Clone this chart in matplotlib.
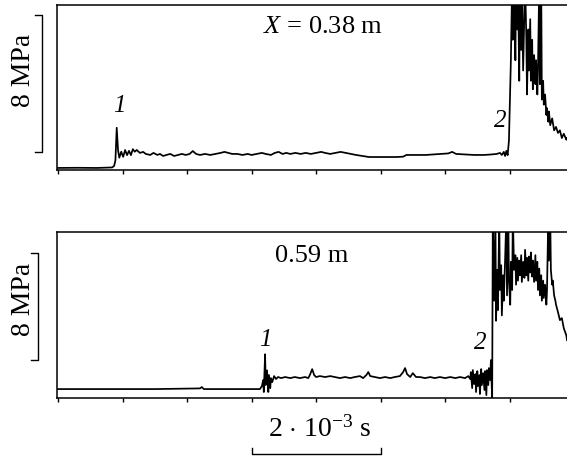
#!/usr/bin/env python3
"""2 点での圧力波形 (オシログラム) を再現する。"""
import matplotlib

matplotlib.use("Agg")
import matplotlib.pyplot as plt
import matplotlib.transforms as mtransforms

matplotlib.rcParams["font.family"] = ["Liberation Serif", "DejaVu Serif"]
matplotlib.rcParams["mathtext.fontset"] = "custom"
matplotlib.rcParams["mathtext.rm"] = "Liberation Serif"
matplotlib.rcParams["mathtext.it"] = "Liberation Serif:italic"

# X = 0.38 m : 時間 (ms) と圧力 (MPa)
top_t = [-0.02, 0.30, 0.60, 0.84, 0.87, 0.89, 0.91, 0.93, 0.95, 0.98, 1.01, 1.04,
         1.07, 1.10, 1.13, 1.16, 1.19, 1.22, 1.27, 1.32, 1.36, 1.43, 1.48, 1.54,
         1.58, 1.63, 1.68, 1.74, 1.80, 1.86, 1.92, 1.98, 2.04, 2.09, 2.14, 2.20,
         2.28, 2.36, 2.44, 2.52, 2.58, 2.64, 2.70, 2.78, 2.86, 2.94, 3.00, 3.08,
         3.16, 3.22, 3.30, 3.36, 3.42, 3.48, 3.54, 3.60, 3.68, 3.76, 3.84, 3.92,
         4.00, 4.08, 4.14, 4.22, 4.30, 4.38, 4.46, 4.54, 4.62, 4.72, 4.82, 4.95,
         5.10, 5.25, 5.35, 5.40, 5.55, 5.70, 5.82, 5.95, 6.05, 6.11, 6.17, 6.30,
         6.45, 6.60, 6.72, 6.80, 6.85, 6.88, 6.91, 6.93, 6.95, 6.97, 6.99, 7.02,
         7.04, 7.05, 7.07, 7.09, 7.10, 7.12, 7.13, 7.15, 7.16, 7.18, 7.19, 7.21,
         7.23, 7.24, 7.26, 7.27, 7.29, 7.30, 7.32, 7.33, 7.35, 7.36, 7.38, 7.40,
         7.41, 7.43, 7.44, 7.46, 7.47, 7.49, 7.50, 7.52, 7.53, 7.55, 7.57, 7.58,
         7.60, 7.61, 7.63, 7.66, 7.69, 7.72, 7.75, 7.78, 7.81, 7.84, 7.88, 7.89]
top_p = [0.00, 0.01, 0.00, 0.03, 0.12, 0.45, 2.35, 1.05, 0.60, 0.95, 0.65, 1.05,
         0.75, 1.00, 0.75, 1.10, 0.95, 1.05, 0.88, 0.94, 0.82, 0.76, 0.88, 0.76,
         0.82, 0.70, 0.76, 0.82, 0.70, 0.76, 0.82, 0.76, 0.82, 0.99, 0.82, 0.76,
         0.82, 0.76, 0.82, 0.88, 0.94, 0.88, 0.82, 0.82, 0.76, 0.82, 0.76, 0.82,
         0.88, 0.82, 0.76, 0.88, 0.94, 0.82, 0.88, 0.82, 0.88, 0.82, 0.88, 0.82,
         0.88, 0.94, 0.88, 0.82, 0.88, 0.94, 0.88, 0.82, 0.76, 0.70, 0.64, 0.64,
         0.64, 0.64, 0.66, 0.76, 0.76, 0.76, 0.79, 0.82, 0.85, 0.94, 0.82, 0.79,
         0.76, 0.76, 0.79, 0.82, 0.88, 0.76, 0.94, 0.70, 1.00, 0.75, 1.60, 6.30,
         11.0, 7.50, 11.0, 6.30, 11.0, 8.10, 11.0, 5.10, 11.0, 6.90, 11.0, 5.70,
         9.20, 11.0, 7.50, 4.30, 8.10, 5.70, 8.70, 5.10, 7.50, 4.60, 6.60, 4.90,
         6.30, 4.30, 5.70, 11.0, 4.90, 11.0, 4.00, 5.10, 3.70, 4.30, 3.10, 3.50,
         2.70, 3.30, 2.50, 2.90, 2.20, 2.40, 2.05, 2.20, 1.75, 2.00, 1.65, 1.75]

# 0.59 m
bot_t = [-0.02, 1.50, 2.20, 2.23, 2.26, 3.00, 3.13, 3.16, 3.18, 3.19, 3.21, 3.22,
         3.24, 3.26, 3.27, 3.29, 3.30, 3.32, 3.35, 3.38, 3.41, 3.46, 3.52, 3.60,
         3.67, 3.75, 3.83, 3.88, 3.91, 3.94, 3.97, 4.00, 4.06, 4.14, 4.22, 4.29,
         4.37, 4.45, 4.53, 4.60, 4.68, 4.73, 4.78, 4.81, 4.84, 4.91, 4.99, 5.07,
         5.15, 5.22, 5.30, 5.35, 5.38, 5.41, 5.46, 5.50, 5.55, 5.61, 5.69, 5.77,
         5.84, 5.92, 6.00, 6.08, 6.16, 6.23, 6.31, 6.36, 6.39, 6.40, 6.42, 6.43,
         6.45, 6.47, 6.48, 6.50, 6.51, 6.53, 6.54, 6.56, 6.57, 6.59, 6.61, 6.62,
         6.64, 6.65, 6.67, 6.68, 6.70, 6.71, 6.73, 6.74, 6.76, 6.78, 6.79, 6.81,
         6.82, 6.84, 6.85, 6.87, 6.88, 6.90, 6.91, 6.93, 6.95, 6.96, 6.98, 6.99,
         7.01, 7.02, 7.04, 7.05, 7.07, 7.09, 7.10, 7.12, 7.13, 7.15, 7.16, 7.18,
         7.19, 7.21, 7.23, 7.24, 7.26, 7.27, 7.29, 7.30, 7.32, 7.33, 7.35, 7.36,
         7.38, 7.40, 7.41, 7.43, 7.44, 7.46, 7.47, 7.49, 7.50, 7.52, 7.53, 7.55,
         7.57, 7.58, 7.60, 7.61, 7.63, 7.64, 7.66, 7.67, 7.69, 7.71, 7.72, 7.75,
         7.78, 7.81, 7.84, 7.88, 7.89]
bot_p = [0.00, 0.00, 0.05, 0.15, 0.00, 0.00, 0.00, 0.22, 0.67, -0.22, 2.60, 0.30,
         1.40, -0.22, 1.05, 0.07, 0.82, 0.52, 0.97, 0.75, 0.90, 0.82, 0.90, 0.82,
         0.90, 0.82, 0.90, 0.82, 1.12, 1.49, 1.05, 0.90, 0.97, 0.90, 0.97, 0.90,
         0.82, 0.90, 0.82, 0.90, 0.97, 0.82, 1.05, 1.27, 0.97, 0.90, 0.82, 0.90,
         0.82, 0.90, 0.97, 1.27, 1.57, 1.12, 0.90, 1.19, 0.90, 0.90, 0.82, 0.90,
         0.82, 0.90, 0.82, 0.90, 0.82, 0.90, 0.82, 0.97, 0.75, 1.27, 0.07, 1.42,
         0.37, 1.12, -0.22, 1.34, 0.22, 1.05, -0.37, 1.49, 0.30, 1.19, -0.07, 1.34,
         -0.45, 1.42, 0.30, 1.57, 0.67, 2.16, -0.82, 13.0, 6.60, 13.0, 5.10, 8.90,
         5.90, 13.0, 7.40, 9.25, 5.50, 8.50, 6.60, 9.60, 13.0, 7.00, 13.0, 8.10,
         6.30, 9.50, 7.40, 13.0, 8.90, 10.0, 7.80, 9.80, 8.10, 9.60, 8.50, 10.0,
         8.00, 9.50, 8.30, 10.4, 8.50, 9.80, 8.10, 9.90, 8.70, 10.2, 8.40, 9.60,
         8.00, 10.0, 8.10, 9.50, 7.40, 9.00, 7.00, 8.50, 6.60, 8.10, 6.80, 7.80,
         6.30, 7.40, 13.0, 9.60, 13.0, 8.90, 7.80, 8.10, 7.00, 6.60, 6.30, 5.75,
         5.15, 5.30, 4.55, 4.00, 3.65]

tick_ms = [0, 1, 2, 3, 4, 5, 6, 7]


def style_axes(ax, ylim):
    ax.set_xlim(-0.016, 7.89)
    ax.set_ylim(*ylim)
    ax.spines["right"].set_visible(False)
    for s in ("top", "left", "bottom"):
        ax.spines[s].set_linewidth(1.1)
    ax.set_xticks(tick_ms)
    ax.set_xticklabels([])
    ax.set_yticks([])
    ax.tick_params(axis="x", direction="out", length=3, width=1.0)


def scale_bar(ax, x, y0, y1):
    # 左側の 8 MPa スケール (x は軸座標, y はデータ)
    tr = mtransforms.blended_transform_factory(ax.transAxes, ax.transData)
    ax.plot([x - 0.014, x, x, x - 0.014], [y0, y0, y1, y1], color="black",
            lw=1.0, transform=tr, clip_on=False)


def main():
    fig = plt.figure(figsize=(5.67, 4.57), dpi=100)
    ax1 = fig.add_axes([0.1005, 0.628, 0.8995, 0.361])
    ax2 = fig.add_axes([0.1005, 0.129, 0.8995, 0.363])

    ax1.plot(top_t, top_p, color="black", lw=1.25)
    style_axes(ax1, (-0.12, 9.53))
    ax1.text(4.11, 8.25, r"$X$ = 0.38 m", fontsize=19, ha="center", va="center")
    ax1.text(0.95, 3.63, "1", fontsize=18, style="italic", ha="center", va="center")
    ax1.text(6.85, 2.75, "2", fontsize=18, style="italic", ha="center", va="center")
    scale_bar(ax1, -0.029, 0.94, 8.94)

    ax2.plot(bot_t, bot_p, color="black", lw=1.25)
    style_axes(ax2, (-0.67, 11.72))
    ax2.text(3.94, 9.93, "0.59 m", fontsize=19, ha="center", va="center")
    ax2.text(3.21, 3.66, "1", fontsize=18, style="italic", ha="center", va="center")
    ax2.text(6.54, 3.43, "2", fontsize=18, style="italic", ha="center", va="center")
    scale_bar(ax2, -0.037, 2.16, 10.16)

    fig.text(0.041, 0.847, "8 MPa", rotation=90, fontsize=20, ha="center", va="center")
    fig.text(0.041, 0.344, "8 MPa", rotation=90, fontsize=20, ha="center", va="center")

    # 時間スケール 2 ms
    tr = mtransforms.blended_transform_factory(ax2.transData, ax2.transAxes)
    ax2.plot([3.0, 3.0, 5.0, 5.0], [-0.30, -0.337, -0.337, -0.30], color="black",
             lw=1.0, transform=tr, clip_on=False)
    ax2.text(4.05, -0.19, r"2 $\cdot$ 10$^{-3}$ s", fontsize=20, transform=tr,
             ha="center", va="center")

    fig.savefig("out.png", dpi=100)


if __name__ == "__main__":
    main()
